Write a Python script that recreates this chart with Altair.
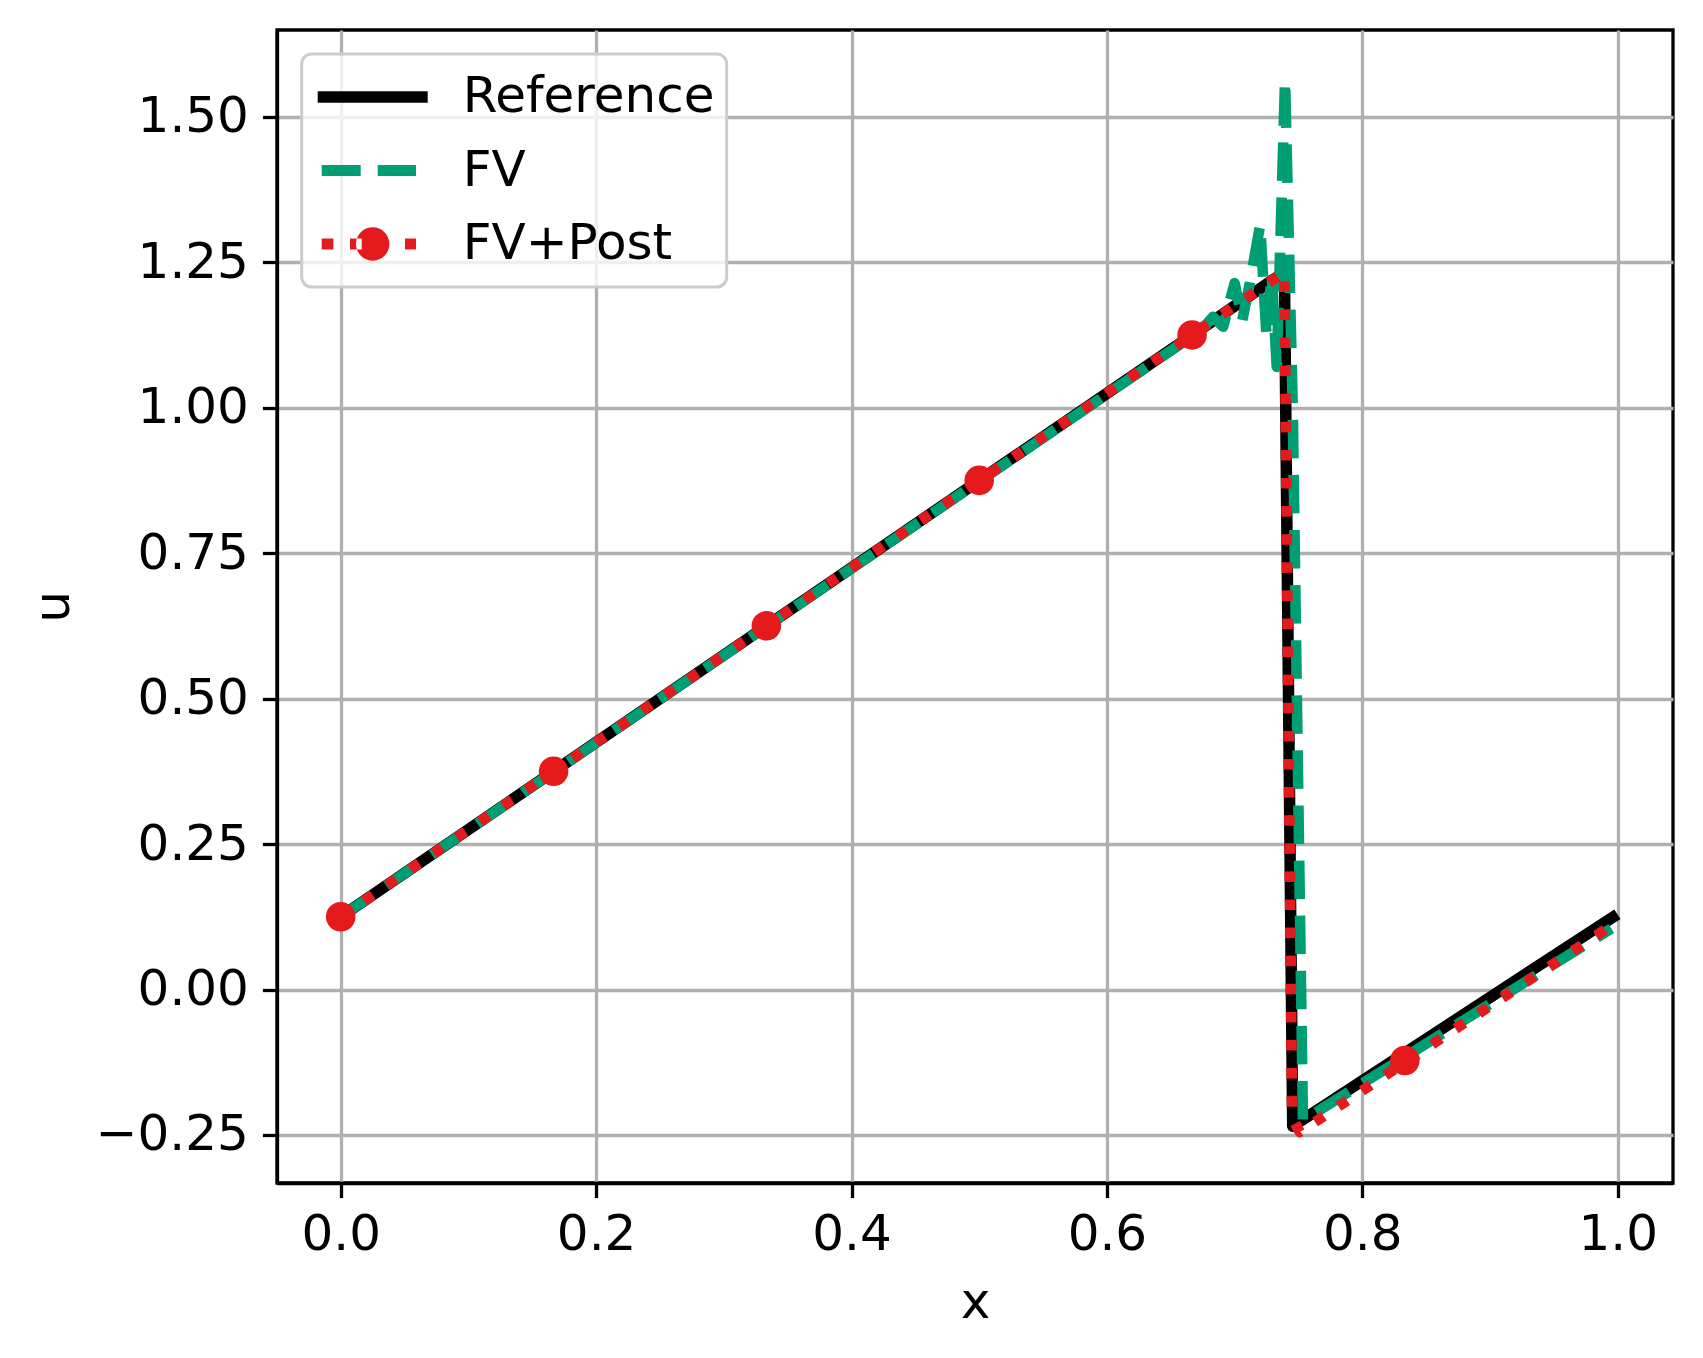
import altair as alt
import pandas as pd

# ---------------- data ----------------
series_names = ["Reference", "FV", "FV+Post"]
series_colors = ["#000000", "#009E73", "#E41A1C"]

ref_x = [0.0, 0.739, 0.7455, 0.996]
ref_u = [0.125, 1.233, -0.235, 0.124]

fv_x = [0.0, 0.660, 0.672, 0.683, 0.691, 0.700, 0.706, 0.712, 0.720, 0.725,
        0.729, 0.733, 0.7395, 0.7455, 0.7535, 0.995]
fv_u = [0.125, 1.113, 1.128, 1.156, 1.139, 1.214, 1.150, 1.215, 1.314, 1.122,
        1.230, 1.070, 1.563, 1.000, -0.225, 0.105]

post_x = [0.0, 0.739, 0.745, 0.751, 0.995]
post_u = [0.125, 1.233, -0.220, -0.245, 0.110]

marker_x = [0.0, 0.1667, 0.3333, 0.5, 0.6667, 0.8333]
marker_u = [0.125, 0.375, 0.625, 0.875, 1.125, -0.122]

x_ticks = [0.0, 0.2, 0.4, 0.6, 0.8, 1.0]
u_ticks = [-0.25, 0.0, 0.25, 0.5, 0.75, 1.0, 1.25, 1.5]
x_domain = [-0.0499, 1.0433]
u_domain = [-0.3325, 1.649]

# legend glyphs (unit-square SVG paths)
legend_paths = [
    "M-1,-0.105H1V0.105H-1Z",
    "M-0.927,-0.1H-0.218V0.1H-0.927Z M0.091,-0.1H0.787V0.1H0.091Z",
    "M-0.927,-0.1H-0.715V0.1H-0.927Z M-0.413,-0.1H-0.2V0.1H-0.413Z "
    "M0.587,-0.1H0.787V0.1H0.587Z "
    "M-0.303,0A0.303,0.303,0,1,0,0.303,0A0.303,0.303,0,1,0,-0.303,0Z",
]

# ---------------- tables ----------------
def table(xs, us):
    return pd.DataFrame({"x": xs, "u": us, "i": list(range(len(xs)))})

ref_df = table(ref_x, ref_u)
fv_df = table(fv_x, fv_u)
post_df = table(post_x, post_u)
mk_df = pd.DataFrame({"x": marker_x, "u": marker_u})
leg_df = pd.DataFrame({"series": series_names})

X = alt.X("x:Q", scale=alt.Scale(domain=x_domain, nice=False, zero=False),
          axis=alt.Axis(values=x_ticks, format=".1f", title="x",
                        titleY=134, titleBaseline="alphabetic",
                        labelPadding=12))
Y = alt.Y("u:Q", scale=alt.Scale(domain=u_domain, nice=False, zero=False),
          axis=alt.Axis(values=u_ticks, format=".2f", title="u",
                        titleX=-209, titleY=576.5, titleAngle=270,
                        titleBaseline="alphabetic", labelPadding=14))

ref_line = alt.Chart(ref_df).mark_line(
    color=series_colors[0], strokeWidth=11.5, strokeCap="square", strokeJoin="round"
).encode(x=X, y=Y, order="i:Q")

fv_line = alt.Chart(fv_df).mark_line(
    color=series_colors[1], strokeWidth=10.6, strokeDash=[38.5, 16.6],
    strokeCap="butt", strokeJoin="round"
).encode(x=X, y=Y, order="i:Q")

post_line = alt.Chart(post_df).mark_line(
    color=series_colors[2], strokeWidth=10.6, strokeDash=[10.6, 17.5],
    strokeCap="butt", strokeJoin="round"
).encode(x=X, y=Y, order="i:Q")

markers = alt.Chart(mk_df).mark_circle(
    size=873, color=series_colors[2], opacity=1
).encode(x=X, y=Y)

leg = alt.Legend(
    title=None, orient="none", legendX=24.7, legendY=24, padding=12,
    clipHeight=62, rowPadding=11.5, symbolSize=12100, symbolOffset=4,
    labelOffset=35, labelFontSize=50, labelFont="DejaVu Sans",
    labelColor="black", fillColor="rgba(255,255,255,0.8)",
    strokeColor="#cccccc", cornerRadius=10, symbolStrokeWidth=0,
    labelLimit=1000, labelExpr="datum.label + '\u2009'",
)

legend_layer = alt.Chart(leg_df).mark_point(
    filled=True, opacity=1, strokeWidth=0
).encode(
    color=alt.Color("series:N", scale=alt.Scale(domain=series_names, range=series_colors),
                    legend=leg),
    shape=alt.Shape("series:N", scale=alt.Scale(domain=series_names, range=legend_paths),
                    legend=leg),
).transform_filter("false")

chart = alt.layer(ref_line, fv_line, post_line, markers, legend_layer).properties(
    width=1396, height=1153,
    autosize=alt.AutoSizeParams(type="none"),
    padding={"left": 277, "top": 30, "right": 30, "bottom": 175},
    background="white",
).configure_view(
    stroke="black", strokeWidth=3.3
).configure_axis(
    domainColor="black", domainWidth=3.3, tickColor="black", tickWidth=3.3,
    tickSize=14.6, gridColor="#b0b0b0", gridWidth=3.3, grid=True,
    labelFont="DejaVu Sans", labelFontSize=50, labelColor="black",
    titleFont="DejaVu Sans", titleFontSize=50, titleColor="black",
    titleFontWeight="normal",
).configure_legend(
    strokeWidth=3
)

chart.save("out.html", embed_options={"renderer": "svg", "actions": False})
